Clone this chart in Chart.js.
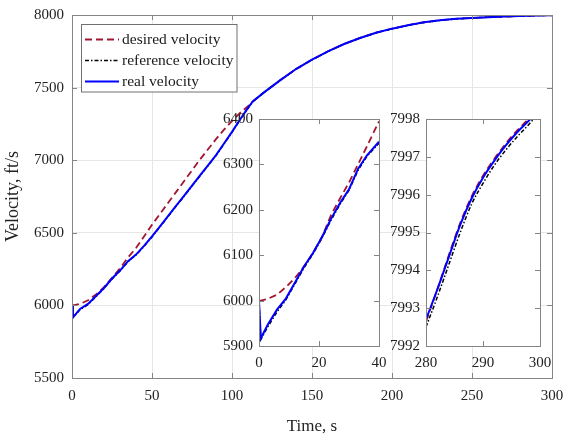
<!DOCTYPE html>
<html><head><meta charset="utf-8">
<script src="https://cdn.jsdelivr.net/npm/chart.js@4.4.0/dist/chart.umd.min.js"></script>
<style>
html,body{margin:0;padding:0;background:#fff;}
#wrap{position:relative;width:565px;height:434px;overflow:hidden;background:#fff;}
canvas{position:absolute;}
</style></head><body>
<div id="wrap">
<canvas id="main" width="565" height="434" style="left:0;top:0;width:565px;height:434px"></canvas>
<canvas id="in1" width="180" height="270" style="left:210px;top:105px;width:180px;height:270px"></canvas>
<canvas id="in2" width="175" height="270" style="left:380px;top:105px;width:175px;height:270px"></canvas>
</div>
<script>
// ---------- data ----------
const seriesLabels = ['desired velocity', 'reference velocity', 'real velocity'];

const timeMain = [0, 0.6, 5, 10, 15, 20, 25, 30, 35, 40, 45, 50, 55, 60, 65, 70, 75, 80, 85, 90, 95, 100, 105, 110, 113,
  120, 130, 140, 150, 160, 170, 180, 190, 200, 210, 220, 230, 240, 250, 260, 270, 280, 290, 300];
const desiredMain = [6000, 6000, 6010, 6035, 6075, 6125, 6190, 6255, 6330, 6395, 6475, 6555, 6630, 6705, 6780, 6855, 6930, 7005, 7075, 7145, 7210, 7270, 7325, 7372, 7405,
  7467, 7550, 7628, 7692, 7750, 7800, 7842, 7878, 7906, 7930, 7950, 7964, 7974, 7980, 7985, 7989, 7992.7, 7996.5, 7998.3];
const referenceMain = [6000, 5915, 5970, 6006, 6061, 6117, 6181, 6237, 6301, 6347, 6407, 6471, 6541, 6611, 6682, 6751, 6822, 6891, 6962, 7032, 7112, 7192, 7277, 7357, 7403,
  7466, 7549, 7627, 7691, 7749, 7799, 7841, 7877, 7905, 7929, 7949, 7963, 7973, 7980, 7985, 7989, 7992.5, 7996.4, 7998.2];
const realMain = [6000, 5918, 5975, 6010, 6065, 6120, 6185, 6240, 6305, 6350, 6410, 6475, 6545, 6615, 6685, 6755, 6825, 6895, 6965, 7035, 7115, 7195, 7280, 7360, 7405,
  7467, 7550, 7628, 7692, 7750, 7800, 7842, 7878, 7906, 7930, 7950, 7964, 7974, 7980, 7985, 7989, 7992.7, 7996.5, 7998.3];

const timeZoom1 = [0, 0.6, 3, 6, 9, 12, 15, 18, 21, 24, 27, 30, 33, 36, 40];
const desiredZoom1 = [6000, 6000, 6004, 6013, 6030, 6050, 6075, 6105, 6140, 6188, 6225, 6260, 6300, 6340, 6395];
const referenceZoom1 = [6000, 5914, 5943, 5975, 6002, 6037, 6072, 6103, 6138, 6177, 6212, 6243, 6287, 6318, 6347];
const realZoom1 = [6000, 5917, 5948, 5980, 6005, 6040, 6075, 6105, 6140, 6180, 6215, 6245, 6290, 6320, 6350];

const timeZoom2 = [280, 282, 284, 286, 288, 290, 292, 294, 296, 298, 300];
const desiredZoom2 = [7992.65, 7993.5, 7994.4, 7995.25, 7995.95, 7996.5, 7996.95, 7997.35, 7997.7, 7998.0, 7998.35];
const referenceZoom2 = [7992.5, 7993.3, 7994.15, 7995.0, 7995.75, 7996.3, 7996.78, 7997.18, 7997.53, 7997.85, 7998.2];
const realZoom2 = [7992.7, 7993.5, 7994.35, 7995.2, 7995.9, 7996.45, 7996.9, 7997.3, 7997.65, 7997.95, 7998.3];

const mainXTicks = [0, 50, 100, 150, 200, 250, 300];
const mainYTicks = [5500, 6000, 6500, 7000, 7500, 8000];
const zoom1XTicks = [0, 20, 40];
const zoom1YTicks = [5900, 6000, 6100, 6200, 6300, 6400];
const zoom2XTicks = [280, 290, 300];
const zoom2YTicks = [7992, 7993, 7994, 7995, 7996, 7997, 7998];

// ---------- styling ----------
const FONT = "'Liberation Serif','Times New Roman',serif";
Chart.defaults.font.family = FONT;
Chart.defaults.font.size = 15;
Chart.defaults.color = '#222';
const AXIS_COLOR = '#858585';
const styles = [
  {borderColor: '#a2142f', borderWidth: 1.8, borderDash: [7, 4], order: 3},
  {borderColor: '#000000', borderWidth: 1.5, borderDash: [4, 2, 1.5, 2], order: 2},
  {borderColor: '#0000ff', borderWidth: 2, borderDash: [], order: 1}
];

function makeDatasets(t, arrs, smooth) {
  return arrs.map((a, k) => Object.assign({
    label: seriesLabels[k],
    data: t.map((x, i) => ({x: x, y: a[i]})),
    pointRadius: 0, fill: false,
    cubicInterpolationMode: smooth ? 'monotone' : 'default',
    tension: 0
  }, styles[k]));
}

const framePlugin = {
  id: 'frame',
  beforeDraw(chart) {
    const o = chart.options.plugins.frame || {};
    if (o.fill) {
      const a = chart.chartArea, c = chart.ctx;
      c.save(); c.fillStyle = '#fff';
      c.fillRect(a.left, a.top, a.right - a.left, a.bottom - a.top);
      c.restore();
    }
  },
  afterDatasetsDraw(chart) {
    const a = chart.chartArea, c = chart.ctx, L = 5;
    c.save();
    c.strokeStyle = AXIS_COLOR; c.lineWidth = 1;
    c.strokeRect(Math.round(a.left) + 0.5, Math.round(a.top) + 0.5,
      Math.round(a.right - a.left), Math.round(a.bottom - a.top));
    const xs = chart.scales.x, ys = chart.scales.y;
    c.beginPath();
    xs.ticks.forEach(tk => {
      const p = Math.round(xs.getPixelForValue(tk.value)) + 0.5;
      c.moveTo(p, a.bottom); c.lineTo(p, a.bottom - L);
      c.moveTo(p, a.top); c.lineTo(p, a.top + L);
    });
    ys.ticks.forEach(tk => {
      const p = Math.round(ys.getPixelForValue(tk.value)) + 0.5;
      c.moveTo(a.left, p); c.lineTo(a.left + L, p);
      c.moveTo(a.right, p); c.lineTo(a.right - L, p);
    });
    c.stroke();
    c.restore();
  }
};

const legendPlugin = {
  id: 'boxLegend',
  afterDraw(chart) {
    const o = chart.options.plugins.boxLegend;
    if (!o || !o.show) return;
    const c = chart.ctx;
    c.save();
    c.fillStyle = '#fff'; c.strokeStyle = '#707070'; c.lineWidth = 1;
    c.fillRect(81.5, 24.5, 155.5, 67.5);
    c.strokeRect(81.5, 24.5, 155.5, 67.5);
    chart.data.datasets.forEach((d, i) => {
      const y = 39.5 + i * 21;
      c.strokeStyle = d.borderColor; c.lineWidth = d.borderWidth;
      c.setLineDash(d.borderDash || []);
      c.beginPath(); c.moveTo(85, y); c.lineTo(119, y); c.stroke();
      c.setLineDash([]);
      c.fillStyle = '#1a1a1a';
      c.font = '15.5px ' + FONT;
      c.textBaseline = 'middle'; c.textAlign = 'left';
      c.fillText(d.label, 122, y + 0.5);
    });
    c.restore();
  }
};

function fixScale(w, h) {
  return function (s) {
    if (w !== null) s.width = w;
    if (h !== null) s.height = h;
    s.paddingLeft = 0; s.paddingRight = 0; s.paddingTop = 0; s.paddingBottom = 0;
  };
}

function tickSetter(vals) {
  return function (s) { s.ticks = vals.map(v => ({value: v})); };
}
const plainLabel = v => String(v);

function buildChart(id, cfg) {
  return new Chart(document.getElementById(id), {
    type: 'line',
    data: {datasets: cfg.datasets},
    plugins: [framePlugin, legendPlugin],
    options: {
      responsive: false, animation: false, devicePixelRatio: 1,
      layout: {padding: cfg.padding},
      plugins: {legend: {display: false}, tooltip: {enabled: false},
        frame: {fill: cfg.fill}, boxLegend: {show: cfg.legend}},
      scales: {
        x: {
          type: 'linear', min: cfg.xr[0], max: cfg.xr[1],
          afterBuildTicks: tickSetter(cfg.xt),
          ticks: {padding: cfg.xpad, maxRotation: 0, autoSkip: false, color: '#222', callback: plainLabel},
          grid: {display: cfg.grid, color: '#e6e6e6', drawTicks: false},
          border: {display: false},
          title: cfg.xtitle ? {display: true, text: cfg.xtitle, color: '#222',
            font: {size: 17, lineHeight: 1}, padding: {top: 0, bottom: -1.5}} : {display: false},
          afterFit: fixScale(null, cfg.xh)
        },
        y: {
          type: 'linear', min: cfg.yr[0], max: cfg.yr[1],
          afterBuildTicks: tickSetter(cfg.yt),
          ticks: {padding: cfg.ypad, autoSkip: false, color: '#222', callback: plainLabel},
          grid: {display: cfg.grid, color: '#e6e6e6', drawTicks: false},
          border: {display: false},
          title: cfg.ytitle ? {display: true, text: cfg.ytitle, color: '#222',
            font: {size: 18, lineHeight: 1}, padding: {top: 4, bottom: 0}} : {display: false},
          afterFit: fixScale(cfg.yw, null)
        }
      }
    }
  });
}

buildChart('main', {
  datasets: makeDatasets(timeMain, [desiredMain, referenceMain, realMain], false),
  padding: {left: 0, right: 13, top: 15, bottom: 0},
  xr: [0, 300], yr: [5500, 8000], xt: mainXTicks, yt: mainYTicks,
  xh: 56, yw: 72, xpad: 9, ypad: 8, grid: true, fill: false, legend: true,
  xtitle: 'Time, s', ytitle: 'Velocity, ft/s'
});

buildChart('in1', {
  datasets: makeDatasets(timeZoom1, [desiredZoom1, referenceZoom1, realZoom1], false),
  padding: {left: 0, right: 11, top: 14, bottom: 0},
  xr: [0, 40], yr: [5900, 6400], xt: zoom1XTicks, yt: zoom1YTicks,
  xh: 29, yw: 49, xpad: 8, ypad: 6, grid: false, fill: true, legend: false
});

buildChart('in2', {
  datasets: makeDatasets(timeZoom2, [desiredZoom2, referenceZoom2, realZoom2], true),
  padding: {left: 0, right: 15, top: 14, bottom: 0},
  xr: [280, 300], yr: [7992, 7998], xt: zoom2XTicks, yt: zoom2YTicks,
  xh: 29, yw: 46, xpad: 8, ypad: 6, grid: false, fill: true, legend: false
});
</script>
</body></html>
